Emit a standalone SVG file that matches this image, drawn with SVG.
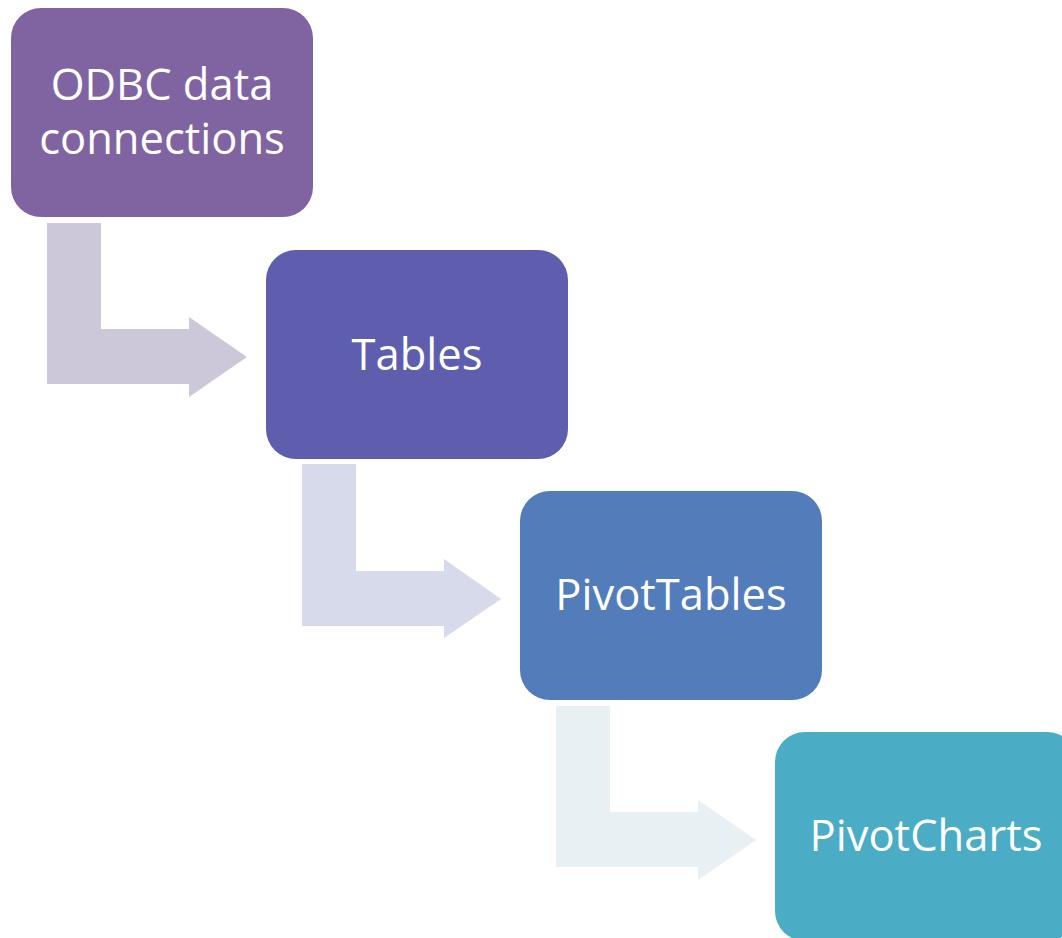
<svg xmlns="http://www.w3.org/2000/svg" width="1062" height="938" viewBox="0 0 1062 938">
<style>
.lbl{font-family:"Open Sans","Liberation Sans",sans-serif;font-size:43.5px;fill:#fff;text-anchor:middle}
</style>
<rect width="1062" height="938" fill="#fff"/>
<g id="connectors">
<polygon points="47,223 101,223 101,329 189,329 189,317 247,357 189,397 189,384 47,384" fill="#CDC7DA"/>
<polygon points="302,464 356,464 356,571 444,571 444,559 501,599 444,638 444,626 302,626" fill="#D7DAEA"/>
<polygon points="556,706 610,706 610,812 698,812 698,800 756,840 698,880 698,867 556,867" fill="#E8F0F4"/>
</g>
<g id="node1">
<rect x="11" y="8" width="302" height="209" rx="30" fill="#8064A2"/>
<text class="lbl" x="162" y="100">ODBC data</text>
<text class="lbl" x="162" y="154">connections</text>
</g>
<g id="node2">
<rect x="266" y="250" width="302" height="209" rx="30" fill="#5F5DAD"/>
<text class="lbl" x="417" y="370">Tables</text>
</g>
<g id="node3">
<rect x="520" y="491" width="302" height="209" rx="30" fill="#537CBB"/>
<text class="lbl" x="671" y="610">PivotTables</text>
</g>
<g id="node4">
<rect x="775" y="732" width="302" height="209" rx="30" fill="#4BACC6"/>
<text class="lbl" x="926" y="851">PivotCharts</text>
</g>
</svg>
